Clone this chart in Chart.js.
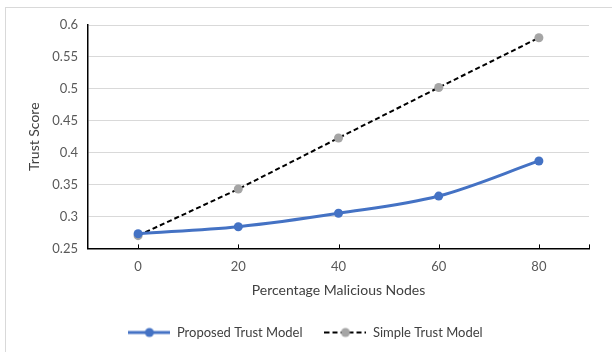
<!DOCTYPE html>
<html>
<head>
<meta charset="utf-8">
<script src="https://cdn.jsdelivr.net/npm/chart.js@4.4.0/dist/chart.umd.min.js"></script>
<style>
  html, body { margin: 0; padding: 0; background: #fff; }
  #wrap { position: relative; width: 612px; height: 352px; }
  #frame { position: absolute; left: 5px; top: 7px; right: -2px; bottom: -2px; border-left: 1px solid #d9d9d9; border-top: 1px solid #d9d9d9; }
  canvas { position: absolute; left: 0; top: 0; }
</style>
</head>
<body>
<div id="wrap">
  <div id="frame"></div>
  <canvas id="myChart" width="612" height="352"></canvas>
</div>
<script>
//Datos
var nodos = [0, 20, 40, 60, 80];
var propuesto = [0.273, 0.284, 0.305, 0.332, 0.387];
var simple = [0.270, 0.343, 0.423, 0.502, 0.580];
var yTicks = [0.25, 0.3, 0.35, 0.4, 0.45, 0.5, 0.55, 0.6];

var fuente = 'Lato, "Open Sans", sans-serif';

function puntos(valores) {
    return nodos.map(function (x, i) { return { x: x, y: valores[i] }; });
}

//Simbolo de leyenda: linea con punto
function simbolo(color, punto, dash, grosor) {
    var c = document.createElement('canvas');
    c.width = 42;
    c.height = 12;
    var g = c.getContext('2d');
    g.strokeStyle = color;
    g.lineWidth = grosor;
    g.setLineDash(dash);
    g.beginPath();
    g.moveTo(0, 6);
    g.lineTo(42, 6);
    g.stroke();
    g.fillStyle = punto;
    g.beginPath();
    g.arc(21, 6, 4.5, 0, Math.PI * 2);
    g.fill();
    return c;
}

var simboloAzul = simbolo('#4472c4', '#4472c4', [], 3);
var simboloGris = simbolo('#000000', '#a5a5a5', [5, 3], 2);

//Marcas del eje x hacia dentro
var marcasX = {
    id: 'marcasX',
    afterDraw: function (chart) {
        var xs = chart.scales.x;
        var ctx = chart.ctx;
        var y0 = chart.chartArea.bottom;
        ctx.save();
        ctx.strokeStyle = '#000';
        ctx.lineWidth = 1;
        nodos.concat([xs.max]).forEach(function (v) {
            var px = Math.round(xs.getPixelForValue(v)) + 0.5;
            ctx.beginPath();
            ctx.moveTo(px, y0);
            ctx.lineTo(px, y0 - 4);
            ctx.stroke();
        });
        ctx.restore();
    }
};

var ctx = document.getElementById('myChart').getContext('2d');

var myChart = new Chart(ctx, {
    type: 'line',
    data: {
        datasets: [{
            label: 'Proposed Trust Model',
            data: puntos(propuesto),
            borderColor: '#4472c4',
            backgroundColor: '#4472c4',
            borderWidth: 3,
            pointRadius: 4.5,
            pointBorderWidth: 0,
            cubicInterpolationMode: 'monotone'
        }, {
            label: 'Simple Trust Model',
            data: puntos(simple),
            borderColor: '#000000',
            backgroundColor: '#a5a5a5',
            borderWidth: 2,
            borderDash: [5, 3],
            pointRadius: 4.5,
            pointBorderWidth: 0
        }]
    },
    options: {
        responsive: false,
        animation: false,
        layout: { padding: { left: 22, right: 23, top: 25, bottom: 3 } },
        plugins: {
            tooltip: { enabled: false },
            legend: {
                position: 'bottom',
                labels: {
                    usePointStyle: true,
                    pointStyleWidth: 42,
                    boxHeight: 12,
                    padding: 22,
                    color: '#404040',
                    font: { family: fuente, size: 13 },
                    generateLabels: function (chart) {
                        return chart.data.datasets.map(function (ds, i) {
                            return {
                                text: ds.label,
                                pointStyle: i === 0 ? simboloAzul : simboloGris,
                                fontColor: '#404040',
                                datasetIndex: i,
                                lineWidth: 0
                            };
                        });
                    }
                }
            }
        },
        scales: {
            x: {
                type: 'linear',
                min: -10,
                max: 90,
                afterBuildTicks: function (scale) {
                    scale.ticks = nodos.map(function (v) { return { value: v }; });
                },
                grid: { display: false, drawTicks: false },
                border: { display: true, color: '#000', width: 1.5 },
                ticks: { color: '#595959', padding: 11, font: { family: fuente, size: 13 } },
                title: { display: true, text: 'Percentage Malicious Nodes', color: '#404040', padding: { top: -3, bottom: 7 }, font: { family: fuente, size: 14, lineHeight: 1 } }
            },
            y: {
                min: 0.25,
                max: 0.6,
                afterBuildTicks: function (scale) {
                    scale.ticks = yTicks.map(function (v) { return { value: v }; });
                },
                afterFit: function (scale) { scale.width = 66; },
                grid: { color: '#d9d9d9', lineWidth: 1, drawTicks: false },
                border: { display: true, color: '#000', width: 1.5 },
                ticks: {
                    color: '#595959',
                    padding: 10,
                    font: { family: fuente, size: 13 },
                    callback: function (v) { return String(parseFloat(v.toFixed(2))); }
                },
                title: { display: true, text: 'Trust Score', color: '#404040', padding: { bottom: 2 }, font: { family: fuente, size: 14 } }
            }
        }
    },
    plugins: [marcasX]
});
</script>
</body>
</html>
